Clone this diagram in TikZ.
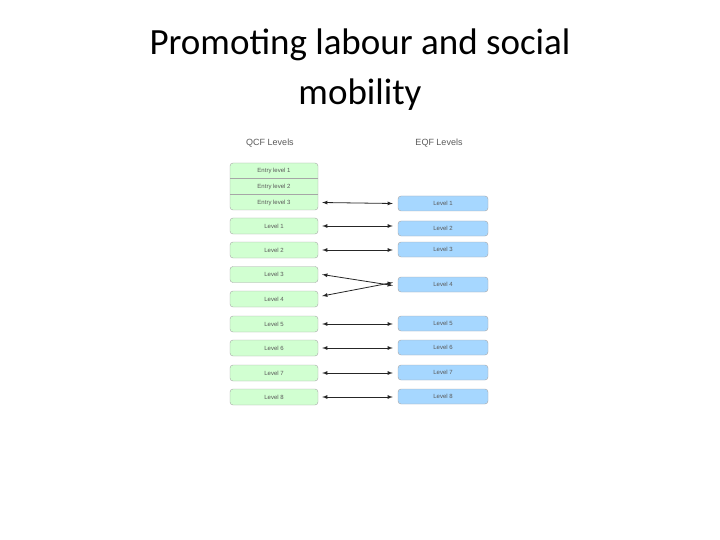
\documentclass[tikz,border=0pt]{standalone}
\usepackage{fontspec}
\setmainfont{Carlito}
\setsansfont{Liberation Sans}
\begin{document}
\begin{tikzpicture}[x=1pt,y=-1pt,
 qbox/.style={draw=gray!70,fill=green!18,rounded corners=3pt,minimum width=88pt,minimum height=16pt,inner sep=0pt,font=\sffamily\fontsize{6}{7}\selectfont,text=gray!70!black},
 ebox/.style={draw=gray!70,fill=blue!45!cyan!35,rounded corners=3pt,minimum width=90pt,minimum height=15pt,inner sep=0pt,font=\sffamily\fontsize{6}{7}\selectfont,text=gray!70!black},
 link/.style={<->,>=latex,line width=0.8pt,black!85}]
\useasboundingbox (0,0) rectangle (720,540);
\node[align=center,font=\fontsize{37}{50}\selectfont] (title) at (360,70) {Promoting labour and social\\mobility};
\node[font=\sffamily\fontsize{9}{10}\selectfont,text=gray!70!black] (qh) at (270,143) {QCF Levels};
\node[font=\sffamily\fontsize{9}{10}\selectfont,text=gray!70!black] (eh) at (439,143) {EQF Levels};
\node[qbox,minimum height=47pt] (entry) at (274,186.5) {};
\draw[gray!70] (230,178.5) -- (318,178.5) (230,194.5) -- (318,194.5);
\node[font=\sffamily\fontsize{6}{7}\selectfont,text=gray!70!black] (e1) at (274,171) {Entry level 1};
\node[font=\sffamily\fontsize{6}{7}\selectfont,text=gray!70!black] (e2) at (274,187) {Entry level 2};
\node[font=\sffamily\fontsize{6}{7}\selectfont,text=gray!70!black] (e3) at (274,202.5) {Entry level 3};
\foreach \n/\y in {1/226,2/250,3/274.5,4/299,5/324,6/348,7/373,8/397}
  \node[qbox] (q\n) at (274,\y) {Level \n};
\foreach \n/\y in {1/203.5,2/228.5,3/249.5,4/284.5,5/323.5,6/347.5,7/372.5,8/396.5}
  \node[ebox] (r\n) at (443,\y) {Level \n};
\draw[link] ([xshift=4pt]e3.east -| entry.east) -- ([xshift=-5pt]r1.west);
\foreach \n in {1,2,5,6,7,8} \draw[link] ([xshift=4pt]q\n.east) -- ([xshift=-5pt]r\n.west |- q\n.east);
\draw[link] ([xshift=4pt]q3.east) -- ([xshift=-5pt,yshift=-1pt]r4.west);
\draw[link] ([xshift=4pt,yshift=3pt]q4.east) -- ([xshift=-5pt,yshift=2pt]r4.west);
\end{tikzpicture}
\end{document}
